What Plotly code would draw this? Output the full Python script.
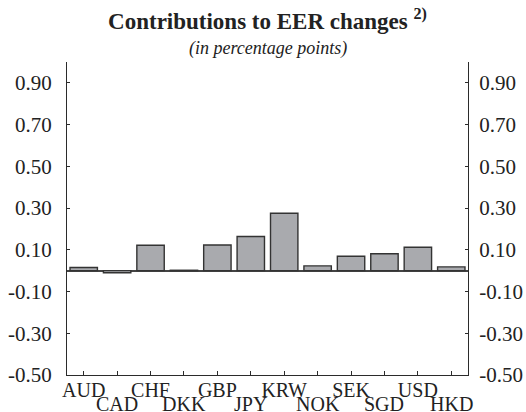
import plotly.graph_objects as go

categories = ["AUD", "CAD", "CHF", "DKK", "GBP", "JPY", "KRW", "NOK", "SEK", "SGD", "USD", "HKD"]
values = [0.015, -0.010, 0.122, 0.002, 0.123, 0.164, 0.275, 0.023, 0.069, 0.081, 0.112, 0.018]
y_tickvals = [-0.5, -0.3, -0.1, 0.1, 0.3, 0.5, 0.7, 0.9]
y_ticktext = ["-0.50", "-0.30", "-0.10", "0.10", "0.30", "0.50", "0.70", "0.90"]

FONT = "Liberation Serif, Times New Roman, serif"
AX = "#2b2b2b"
TXT = "#222"

top_row = [c if i % 2 == 0 else "" for i, c in enumerate(categories)]
bottom_row = [c for i, c in enumerate(categories) if i % 2 == 1]

fig = go.Figure()
fig.add_trace(go.Bar(
    x=categories, y=values,
    marker=dict(color="#a9aaae", line=dict(color="#333333", width=1.4)),
    width=0.82, showlegend=False, hoverinfo="skip",
))
# invisible trace so the right-hand axis is drawn
fig.add_trace(go.Scatter(
    x=categories, y=values, yaxis="y2", mode="lines",
    line=dict(width=0, color="rgba(0,0,0,0)"), showlegend=False, hoverinfo="skip",
))

annotations = [
    dict(x=c, y=0, xref="x", yref="paper", yanchor="top", yshift=-16,
         text=c, showarrow=False, font=dict(family=FONT, size=20, color=TXT))
    for c in bottom_row
]
annotations.append(dict(
    x=0.5, y=1, xref="paper", yref="paper", yanchor="bottom", yshift=1,
    text="<i>(in percentage points)</i>", showarrow=False,
    font=dict(family=FONT, size=18, color=TXT)))

fig.update_layout(
    width=526, height=412,
    margin=dict(l=67, r=58, t=62, b=37, autoexpand=False),
    paper_bgcolor="white", plot_bgcolor="white",
    font=dict(family=FONT, size=20, color=TXT),
    title=dict(text="<b>Contributions to EER changes <sup>2)</sup></b>",
               x=0.5, xref="paper", y=0.949, yref="container", yanchor="middle",
               font=dict(family=FONT, size=23, color=TXT)),
    xaxis=dict(
        type="category", categoryorder="array", categoryarray=categories,
        tickmode="array", tickvals=categories, ticktext=top_row,
        ticks="inside", ticklen=4, tickcolor=AX,
        showline=True, linecolor=AX, linewidth=1.2, mirror=False,
        showgrid=False, range=[-0.5, len(categories) - 0.5], automargin=False,
        tickfont=dict(family=FONT, size=20, color=TXT), ticklabelstandoff=-3,
    ),
    yaxis=dict(
        range=[-0.5, 1.0], tickmode="array", tickvals=y_tickvals, ticktext=y_ticktext,
        ticks="inside", ticklen=3, tickcolor=AX,
        showline=True, linecolor=AX, linewidth=1.2, automargin=False,
        showgrid=False, zeroline=True, zerolinecolor="#444", zerolinewidth=1.5,
        tickfont=dict(family=FONT, size=21, color=TXT), ticklabelstandoff=10,
    ),
    yaxis2=dict(
        overlaying="y", side="right",
        range=[-0.5, 1.0], tickmode="array", tickvals=y_tickvals, ticktext=y_ticktext,
        ticks="inside", ticklen=3, tickcolor=AX,
        showline=True, linecolor=AX, linewidth=1.2, automargin=False,
        showgrid=False, zeroline=False,
        tickfont=dict(family=FONT, size=21, color=TXT), ticklabelstandoff=6,
    ),
    annotations=annotations,
)

fig.write_html(
    "out.html",
    config={"displayModeBar": False},
    post_script="document.body.style.margin='0';document.body.style.overflow='hidden';",
)
